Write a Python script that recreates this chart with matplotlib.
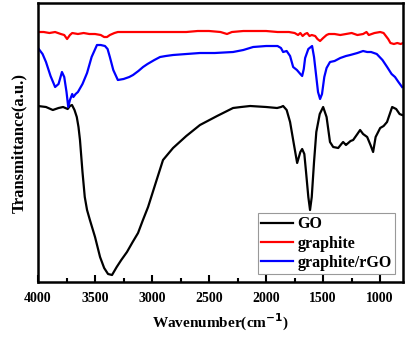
import numpy as np
import matplotlib.pyplot as plt
from matplotlib.ticker import MultipleLocator

# values (wavenumber, transmittance in arbitrary units)
go_wn = [4000, 3930, 3870, 3820, 3780, 3740, 3720, 3702, 3680, 3660, 3645, 3632, 3610,
         3590, 3570, 3545, 3500, 3456, 3420, 3386, 3351, 3310, 3270, 3220, 3170, 3123,
         3080, 3035, 2960, 2904, 2816, 2700, 2580, 2430, 2290, 2220, 2140, 2000, 1904,
         1870, 1851, 1820, 1790, 1760, 1728, 1700, 1684, 1665, 1650, 1630, 1615, 1600,
         1580, 1560, 1530, 1500, 1470, 1440, 1412, 1368, 1340, 1325, 1300, 1290, 1260,
         1237, 1200, 1176, 1150, 1114, 1085, 1062, 1040, 1000, 970, 940, 895, 860, 830,
         808]
go_t = [176, 175, 172, 174, 175, 173, 176, 177, 172, 165, 155, 142, 110, 85, 72, 62, 45,
        25, 14, 8, 7, 15, 22, 30, 40, 49, 62, 75, 102, 122, 134, 146, 157, 166, 174, 175,
        176, 175, 174, 175, 176, 172, 160, 140, 119, 130, 133, 128, 110, 85, 72, 85, 120,
        150, 168, 175, 165, 140, 135, 134, 138, 140, 137, 138, 141, 142, 148, 152, 148,
        145, 137, 130, 145, 154, 156, 160, 175, 173, 168, 167]

graphite_wn = [4000, 3950, 3900, 3850, 3800, 3770, 3745, 3720, 3700, 3650, 3600, 3550,
               3500, 3450, 3420, 3395, 3370, 3330, 3300, 3200, 3100, 3000, 2900, 2800,
               2700, 2600, 2500, 2400, 2343, 2300, 2200, 2100, 2000, 1900, 1800, 1750,
               1720, 1700, 1680, 1660, 1640, 1620, 1600, 1570, 1550, 1527, 1500, 1470,
               1450, 1400, 1350, 1300, 1250, 1200, 1150, 1120, 1100, 1050, 1000, 970, 950,
               930, 910, 880, 850, 820, 800]
graphite_t = [250, 250, 249, 250, 248, 247, 243, 247, 249, 248, 249, 248, 248, 247, 245,
              245, 247, 249, 250, 250, 250, 250, 250, 250, 250, 251, 251, 250, 248, 250,
              251, 251, 251, 250, 250, 249, 247, 249, 246, 248, 249, 246, 247, 246, 243,
              241, 244, 247, 248, 248, 247, 248, 249, 247, 248, 250, 247, 249, 250, 249,
              246, 243, 239, 238, 239, 238, 239]

rgo_wn = [4000, 3960, 3930, 3890, 3850, 3820, 3790, 3770, 3750, 3735, 3720, 3700, 3690,
          3670, 3650, 3610, 3570, 3530, 3483, 3450, 3413, 3390, 3370, 3340, 3300, 3250,
          3200, 3167, 3120, 3079, 3040, 2980, 2930, 2880, 2816, 2700, 2580, 2450, 2290,
          2200, 2114, 2000, 1939, 1900, 1870, 1851, 1820, 1790, 1763, 1730, 1700, 1684,
          1670, 1658, 1630, 1597, 1580, 1560, 1545, 1527, 1510, 1490, 1470, 1440, 1400,
          1350, 1300, 1263, 1200, 1150, 1114, 1080, 1030, 980, 939, 900, 870, 840, 808]
rgo_t = [234, 228, 220, 206, 195, 198, 210, 205, 190, 175, 182, 188, 185, 188, 190, 198,
         209, 225, 237, 237, 236, 233, 225, 212, 202, 203, 205, 207, 211, 215, 218, 222,
         225, 226, 227, 228, 229, 229, 230, 232, 235, 236, 236, 236, 234, 230, 231, 226,
         215, 212, 208, 206, 213, 224, 233, 236, 225, 205, 190, 183, 188, 205, 214, 220,
         221, 224, 226, 227, 229, 231, 230, 230, 228, 222, 215, 208, 205, 200, 195]

plt.rcParams['font.family'] = 'Liberation Serif'
plt.rcParams['font.weight'] = 'bold'

fig = plt.figure(figsize=(4.06, 3.38), dpi=100)
ax = fig.add_axes([0.0936, 0.1657, 0.899, 0.8254])

ax.plot(go_wn, go_t, color='black', lw=1.6, label='GO')
ax.plot(graphite_wn, graphite_t, color='red', lw=1.6, label='graphite')
ax.plot(rgo_wn, rgo_t, color='blue', lw=1.6, label='graphite/rGO')

ax.set_xlim(4000, 800)
ax.set_ylim(0, 279)
ax.xaxis.set_major_locator(MultipleLocator(500))
ax.xaxis.set_minor_locator(MultipleLocator(250))
ax.tick_params(axis='x', which='major', direction='in', length=5, width=1.5,
               labelsize=10, pad=7)
ax.tick_params(axis='x', which='minor', direction='in', length=3, width=1.5)
ax.set_yticks([])
for s in ax.spines.values():
    s.set_linewidth(1.8)

ax.set_xlabel('Wavenumber(cm$^{\\mathbf{-1}}$)', fontsize=11, fontweight='bold', labelpad=5)
ax.set_ylabel('Transmittance(a.u.)', fontsize=12, fontweight='bold', labelpad=8)

leg = ax.legend(loc='lower right', frameon=True, fancybox=False,
                handlelength=2.0, handletextpad=0.3, labelspacing=0.2,
                borderpad=0.2, borderaxespad=0.5, prop={'weight': 'bold', 'size': 11.5})
leg.get_frame().set_edgecolor('gray')
leg.get_frame().set_linewidth(0.8)

fig.savefig('out.png', dpi=100)
